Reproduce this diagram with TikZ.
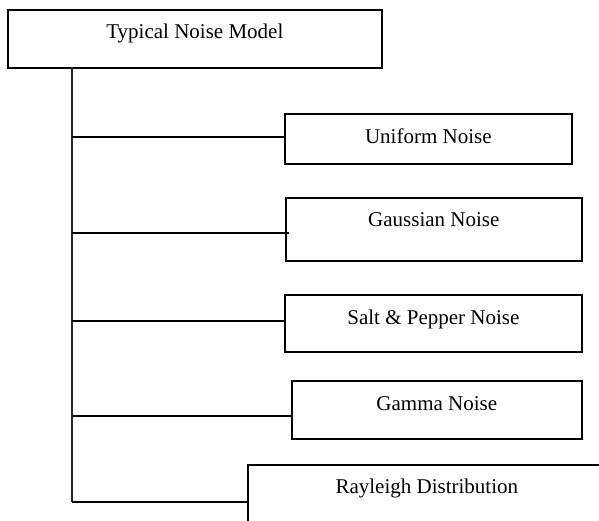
\documentclass[tikz,border=0pt]{standalone}
\usepackage{fontspec}
\setmainfont{Liberation Serif}
\begin{document}
\begin{tikzpicture}[x=1pt,y=-1pt,
  box/.style={draw, line width=1.7pt, rectangle, anchor=north west, inner sep=0pt,
    font=\fontsize{21}{25}\selectfont, text height=14pt, text depth=4pt},
  link/.style={line width=1.6pt},
  trunkline/.style={line width=1.5pt, black!85}]
\clip (0,0) rectangle (599,520);
\node[box, minimum width=374pt, minimum height=58pt, text depth=14pt] (top) at (7,9) {Typical Noise Model};
\node[box, minimum width=287pt, minimum height=50pt] (uni) at (284,113) {Uniform Noise};
\node[box, minimum width=296pt, minimum height=63pt, text depth=19pt] (gau) at (285,197) {Gaussian Noise};
\node[box, minimum width=297pt, minimum height=57pt, text depth=11pt] (salt) at (284,294) {Salt \& Pepper Noise};
\node[box, minimum width=290pt, minimum height=58pt, text depth=12pt] (gam) at (291,380) {Gamma Noise};
\node[box, minimum width=358pt, minimum height=70pt, text depth=26pt] (ray) at (247,464) {Rayleigh Distribution};
\coordinate (tb) at (72,502);
\coordinate (tt) at (72,67);
\draw[trunkline] (tt) -- (tb);
\draw[link] ([yshift=2pt]uni.west -| tb) -- ([yshift=2pt]uni.west);
\draw[link] ([yshift=-3.5pt]gau.west -| tb) -- ([yshift=-3.5pt,xshift=4pt]gau.west);
\draw[link] ([yshift=2.5pt]salt.west -| tb) -- ([yshift=2.5pt]salt.west);
\draw[link] ([yshift=-6pt]gam.west -| tb) -- ([yshift=-6pt]gam.west);
\draw[link] (tb) -- (tb -| ray.west);
\end{tikzpicture}
\end{document}
